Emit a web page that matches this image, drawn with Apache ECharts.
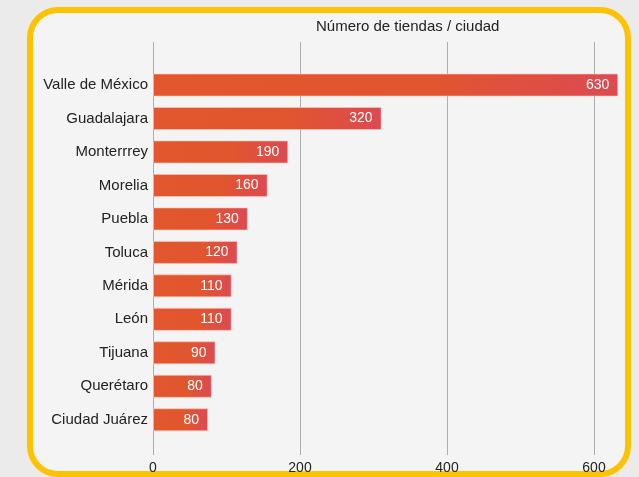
<!DOCTYPE html>
<html>
<head>
<meta charset="utf-8">
<script src="https://cdn.jsdelivr.net/npm/echarts@6/dist/echarts.min.js"></script>
<style>
html,body{margin:0;padding:0;background:#ebebeb;}
#chart{width:639px;height:477px;}
</style>
</head>
<body>
<div id="chart"></div>
<script>
const cities = ['Valle de México','Guadalajara','Monterrrey','Morelia','Puebla','Toluca','Mérida','León','Tijuana','Querétaro','Ciudad Juárez'];
// bar lengths
const stores = [633,311,184,156,129,115,107,107,85,80,75];
// values printed on the bars
const storeLabels = ['630','320','190','160','130','120','110','110','90','80','80'];
const titleText = 'Número de tiendas / ciudad';

const chart = echarts.init(document.getElementById('chart'));
const font = 'Liberation Sans, Arial, sans-serif';
chart.setOption({
  backgroundColor: '#ebebeb',
  animation: false,
  title: {
    text: titleText, left: 316, top: 19, padding: 0,
    textStyle: {fontFamily: font, fontSize: 15, fontWeight: 'normal', color: '#222'}
  },
  graphic: [{
    type: 'rect', z: -10, silent: true,
    shape: {x: 30, y: 10, width: 598, height: 464, r: 28},
    style: {fill: '#f4f4f4', stroke: '#fdc300', lineWidth: 6}
  }],
  grid: [
    {left: 153, top: 42, width: 588, height: 413, outerBoundsMode: 'none', containLabel: false},
    {left: 153, top: 68.3, width: 588, height: 368.2, outerBoundsMode: 'none', containLabel: false}
  ],
  xAxis: [
    {gridIndex: 0, type: 'value', min: 0, max: 800, interval: 200,
     axisLine: {show: false}, axisTick: {show: false},
     splitLine: {show: true, lineStyle: {color: '#adadad', width: 1}},
     axisLabel: {margin: 6, fontFamily: font, fontSize: 14, color: '#222'}},
    {gridIndex: 1, type: 'value', min: 0, max: 800, show: false,
     splitLine: {show: false}}
  ],
  yAxis: [
    {gridIndex: 0, type: 'value', show: false},
    {gridIndex: 1, type: 'category', data: cities, inverse: true,
     axisLine: {show: false}, axisTick: {show: false},
     axisLabel: {margin: 5, fontFamily: font, fontSize: 15, color: '#222'}}
  ],
  series: [{
    type: 'bar', xAxisIndex: 1, yAxisIndex: 1, data: stores, barWidth: 23,
    itemStyle: {
      color: new echarts.graphic.LinearGradient(0, 0, 1, 0, [
        {offset: 0, color: '#e2572d'},
        {offset: 0.6, color: '#e1552f'},
        {offset: 1, color: '#dc4a52'}
      ]),
      borderColor: 'rgba(255,200,190,0.6)', borderWidth: 1
    },
    label: {show: true, position: 'insideRight', distance: 9, color: '#fff',
      fontFamily: font, fontSize: 14,
      formatter: p => storeLabels[p.dataIndex]}
  }]
});
</script>
</body>
</html>
